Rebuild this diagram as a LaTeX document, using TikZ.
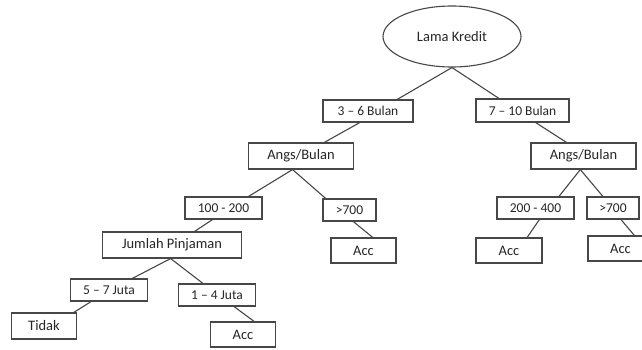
\documentclass[tikz,border=0pt]{standalone}
\usepackage{fontspec}
\setmainfont{Carlito}
\usetikzlibrary{calc,shapes.geometric}
\begin{document}
\begin{tikzpicture}[x=1pt,y=-1pt,
  base/.style={draw=black!72, line width=1.1pt, inner sep=0pt, text=black!85},
  attr/.style={base, rectangle, font=\fontsize{14.5}{16}\selectfont},
  branch/.style={base, rectangle, font=\fontsize{13.5}{15}\selectfont},
  rootnode/.style={base, ellipse, font=\fontsize{14.5}{16}\selectfont},
  conn/.style={draw=black!72, line width=1.1pt}]
\useasboundingbox (0,0) rectangle (642,349);
\fill[white] (0,0) rectangle (642,349);

\node[rootnode, minimum width=138pt, minimum height=61pt] (root) at (452,36.5) {Lama Kredit};
\node[branch, minimum width=90pt, minimum height=22pt] (b36) at (368,111) {3 – 6 Bulan};
\node[branch, minimum width=93pt, minimum height=23pt] (b710) at (522.5,110.5) {7 – 10 Bulan};
\node[attr, minimum width=104.5pt, minimum height=26pt] (angL) at (301,156) {Angs/Bulan};
\node[attr, minimum width=105pt, minimum height=26pt] (angR) at (583.5,156) {Angs/Bulan};
\node[branch, minimum width=77pt, minimum height=22pt] (b100) at (223.5,208) {100 - 200};
\node[branch, minimum width=53pt, minimum height=22pt] (g700L) at (349.5,210) {>700};
\node[branch, minimum width=77pt, minimum height=22pt] (b200) at (535.5,208) {200 - 400};
\node[branch, minimum width=52pt, minimum height=22pt] (g700R) at (613,208) {>700};
\node[attr, minimum width=139.5pt, minimum height=26pt] (jp) at (172,245) {Jumlah Pinjaman};
\node[attr, minimum width=65pt, minimum height=25pt] (accL) at (363.5,250.5) {Acc};
\node[attr, minimum width=66pt, minimum height=25pt] (accM) at (509,250.5) {Acc};
\node[attr, minimum width=65pt, minimum height=25pt] (accR) at (620.5,248.5) {Acc};
\node[branch, minimum width=76.5pt, minimum height=22pt] (b57) at (109,290) {5 – 7 Juta};
\node[branch, minimum width=76.5pt, minimum height=22pt] (b14) at (217,295) {1 – 4 Juta};
\node[attr, minimum width=65pt, minimum height=26pt] (tidak) at (44,326) {Tidak};
\node[attr, minimum width=64.5pt, minimum height=25pt] (accB) at (243,334.5) {Acc};

\draw[conn] (root.south) -- ($(b36.north west)!0.82!(b36.north east)$);
\draw[conn] (root.south) -- ($(b710.north west)!0.25!(b710.north east)$);
\draw[conn] ($(b36.south west)!0.41!(b36.south east)$) -- ($(angL.north west)!0.72!(angL.north east)$);
\draw[conn] ($(b710.south west)!0.64!(b710.south east)$) -- ($(angR.north west)!0.34!(angR.north east)$);
\draw[conn] ($(angL.south west)!0.42!(angL.south east)$) -- ($(b100.north west)!0.82!(b100.north east)$);
\draw[conn] ($(angL.south west)!0.42!(angL.south east)$) -- ($(g700L.north west)!0.06!(g700L.north east)$);
\draw[conn] ($(angR.south west)!0.47!(angR.south east)$) -- ($(b200.north west)!0.8!(b200.north east)$);
\draw[conn] ($(angR.south west)!0.47!(angR.south east)$) -- ($(g700R.north west)!0.31!(g700R.north east)$);
\draw[conn] ($(b100.south west)!0.36!(b100.south east)$) -- ($(jp.north west)!0.66!(jp.north east)$);
\draw[conn] ($(g700L.south west)!0.57!(g700L.south east)$) -- ($(accL.north west)!0.64!(accL.north east)$);
\draw[conn] ($(b200.south west)!0.55!(b200.south east)$) -- ($(accM.north west)!0.77!(accM.north east)$);
\draw[conn] ($(g700R.south west)!0.65!(g700R.south east)$) -- ($(accR.north west)!0.71!(accR.north east)$);
\draw[conn] ($(jp.south west)!0.49!(jp.south east)$) -- ($(b57.north west)!0.80!(b57.north east)$);
\draw[conn] ($(jp.south west)!0.49!(jp.south east)$) -- ($(b14.north west)!0.32!(b14.north east)$);
\draw[conn] ($(b57.south west)!0.27!(b57.south east)$) -- ($(tidak.north west)!0.95!(tidak.north east)$);
\draw[conn] ($(b14.south west)!0.72!(b14.south east)$) -- ($(accB.north west)!0.67!(accB.north east)$);
\end{tikzpicture}
\end{document}
